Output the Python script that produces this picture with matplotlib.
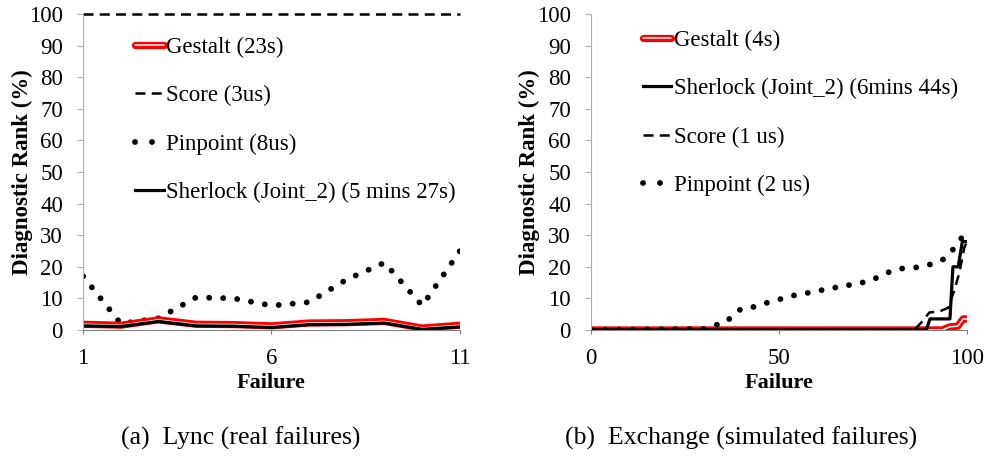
import numpy as np
import matplotlib
matplotlib.use('Agg')
from matplotlib import pyplot as plt
from matplotlib.lines import Line2D
import matplotlib.patheffects as pe

plt.rcParams['font.family'] = ['Liberation Serif', 'DejaVu Serif']

# (a) Lync: 11 real failures
lync_x = [1, 2, 3, 4, 5, 6, 7, 8, 9, 10, 11]
lync_gestalt = [1.8, 1.5, 3.2, 1.8, 1.7, 1.3, 2.2, 2.3, 2.7, 0.6, 1.5]
lync_score = [100, 100, 100, 100, 100, 100, 100, 100, 100, 100, 100]
lync_pinpoint = [17, 2, 3.7, 10.3, 10, 7.7, 8.8, 16, 21.3, 7.7, 25]
lync_sherlock = [1.3, 1.1, 2.7, 1.3, 1.2, 0.8, 1.7, 1.8, 2.2, 0.2, 1.0]

# (b) Exchange: simulated failures (breakpoints)
ex_gestalt_x = [0, 93.5, 95.5, 97.6, 99, 100]
ex_gestalt_y = [0, 0, 1.0, 1.2, 3.5, 3.5]
ex_sherlock_x = [0, 89.2, 90.2, 95.5, 96.3, 97.7, 98.8, 100]
ex_sherlock_y = [0, 0, 3.5, 3.5, 20, 20, 28, 28]
ex_score_x = [0, 86, 88, 90, 93, 95, 96.5, 98, 99.3, 100]
ex_score_y = [0, 0, 2.5, 5.5, 6, 7, 12, 18, 26, 28]
ex_pin_x = [0, 30, 33, 36, 38, 40, 43, 46, 49, 52, 55, 58, 61, 64, 67, 70,
            73, 76, 79, 82, 85, 88, 91, 94, 96, 98, 100]
ex_pin_y = [0, 0.3, 1.5, 2.5, 5, 6.7, 7.2, 8.3, 9.4, 10.2, 11.3, 11.8, 12.5,
            13.4, 13.5, 14.8, 15.1, 16.5, 18.2, 19.4, 19.6, 20, 21, 22.5,
            25, 28, 32]

yticks = list(range(0, 101, 10))

fig = plt.figure(figsize=(9.89, 4.57), dpi=100)
ax1 = fig.add_axes([0.084, 0.278, 0.381, 0.691])
ax2 = fig.add_axes([0.5976, 0.278, 0.380, 0.691])

gestalt_fx = [pe.Stroke(linewidth=5.2, foreground='#ff0000'), pe.Normal()]
dots = (0, (0.01, 2.4))
dashes = (0, (4, 2.5))


def gestalt(ax, x, y, label):
    ax.plot(x, y, color='white', lw=1.1, path_effects=gestalt_fx,
            label=label, solid_capstyle='round')


def sherlock(ax, x, y, label):
    ax.plot(x, y, color='black', lw=2.3, label=label)


def score(ax, x, y, label, clip=True):
    ax.plot(x, y, color='black', lw=1.8, ls=dashes, label=label, clip_on=clip)


def pinpoint(ax, x, y, label):
    ax.plot(x, y, color='black', lw=4.2, ls=dots, dash_capstyle='round',
            label=label)


# left panel
pinpoint(ax1, lync_x, lync_pinpoint, 'Pinpoint (8us)')
score(ax1, lync_x, lync_score, 'Score (3us)', clip=False)
gestalt(ax1, lync_x, lync_gestalt, 'Gestalt (23s)')
sherlock(ax1, lync_x, lync_sherlock, 'Sherlock (Joint_2) (5 mins 27s)')
ax1.set_xlim(1, 11)
ax1.set_xticks([1, 6, 11])

# right panel
gestalt(ax2, ex_gestalt_x, ex_gestalt_y, 'Gestalt (4s)')
pinpoint(ax2, ex_pin_x, ex_pin_y, 'Pinpoint (2 us)')
score(ax2, ex_score_x, ex_score_y, 'Score (1 us)')
sherlock(ax2, ex_sherlock_x, ex_sherlock_y, 'Sherlock (Joint_2) (6mins 44s)')
ax2.set_xlim(0, 100)
ax2.set_xticks([0, 50, 100])

for ax in (ax1, ax2):
    ax.set_ylim(0, 100)
    ax.set_yticks(yticks)
    for s in ('top', 'right'):
        ax.spines[s].set_visible(False)
    ax.spines['left'].set_color('#b0b0b0')
    ax.spines['bottom'].set_color('#808080')
    ax.tick_params(axis='y', direction='out', length=4.5, width=0.8,
                   color='#b0b0b0', pad=10, labelsize=16.5)
    ax.tick_params(axis='x', direction='out', length=3, width=0.8,
                   color='#808080', pad=10, labelsize=16.5)
    ax.set_xlabel('Failure', fontsize=16, fontweight='bold')
    ax.xaxis.set_label_coords(0.5, -0.135)
    ax.set_ylabel('Diagnostic Rank (%)', fontsize=16.5, fontweight='bold')
ax1.yaxis.set_label_coords(-0.133, 0.5)
ax2.yaxis.set_label_coords(-0.136, 0.5)


def legend(ax, order, x, y):
    h, l = ax.get_legend_handles_labels()
    handles = []
    for o in order:
        hd = h[l.index(o)]
        if o.startswith('Pinpoint'):
            # two dots in the key, as in the original
            hd = Line2D([], [], color='black', lw=4.2, ls=(0, (0.01, 2.9)),
                        dash_capstyle='round')
        handles.append(hd)
    fig.legend(handles, order, loc='upper left',
               bbox_to_anchor=(x, y), frameon=False, fontsize=16.5,
               handlelength=1.25, handletextpad=0.1, labelspacing=1.18,
               borderpad=0, borderaxespad=0)


legend(ax1, ['Gestalt (23s)', 'Score (3us)', 'Pinpoint (8us)',
             'Sherlock (Joint_2) (5 mins 27s)'], 0.1365, 0.919)
legend(ax2, ['Gestalt (4s)', 'Sherlock (Joint_2) (6mins 44s)',
             'Score (1 us)', 'Pinpoint (2 us)'], 0.650, 0.934)

fig.text(0.243, 0.042, '(a)  Lync (real failures)', ha='center',
         va='center', fontsize=18.5)
fig.text(0.749, 0.042, '(b)  Exchange (simulated failures)', ha='center',
         va='center', fontsize=18.5)

fig.savefig('out.png', dpi=100)
